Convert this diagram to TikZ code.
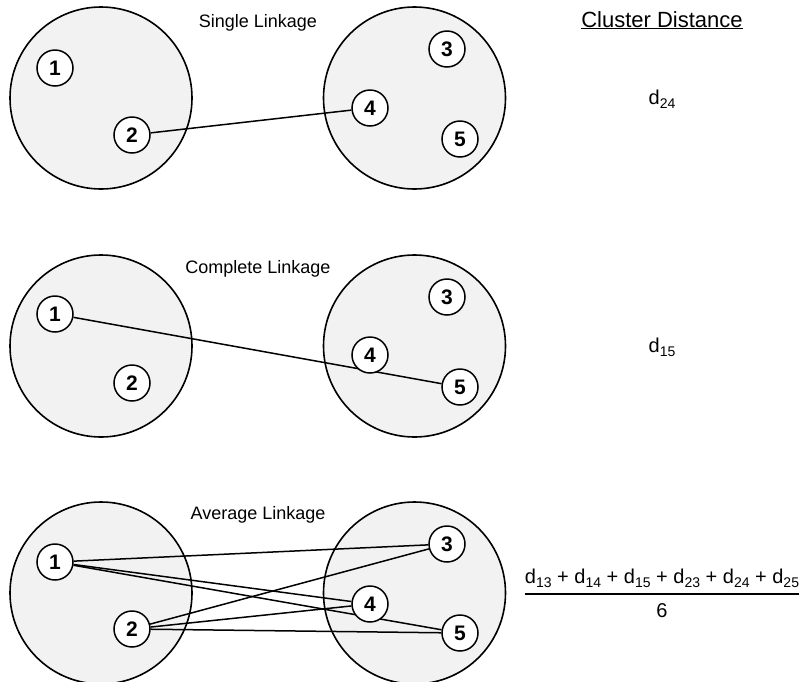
\documentclass[tikz,border=0pt]{standalone}
\usepackage{fontspec}
\setmainfont{Liberation Sans}
\usetikzlibrary{positioning}
\pgfdeclarelayer{background}
\pgfdeclarelayer{edges}
\pgfsetlayers{background,edges,main}

\newcommand{\dist}[1]{d\raisebox{-0.22em}{\fontsize{14}{16}\selectfont #1}}

\begin{document}
\begin{tikzpicture}[
    x=1pt, y=-1pt,
    cluster/.style={circle, draw, line width=1.6pt, fill=black!5, minimum size=182pt, inner sep=0pt},
    point/.style={circle, draw, line width=1.5pt, fill=white, minimum size=36pt, inner sep=0pt, font=\fontsize{21}{24}\selectfont\bfseries},
    link/.style={line width=1.5pt},
    title/.style={anchor=base, font=\fontsize{18}{22}\selectfont},
    dist/.style={anchor=base, font=\fontsize{20}{24}\selectfont}
]
    \useasboundingbox (0,0) rectangle (807,681);

    \begin{pgfonlayer}{background}
        \node[cluster] (sl) at (101,98) {};
        \node[cluster] (sr) at (414.5,98) {};
        \node[cluster] (cl) at (101,346) {};
        \node[cluster] (cr) at (414.5,346) {};
        \node[cluster] (al) at (101,593) {};
        \node[cluster] (ar) at (414.5,593) {};
    \end{pgfonlayer}

    \node[anchor=base, font=\fontsize{22}{26}\selectfont] (heading) at (662,27) {\underline{Cluster Distance}};

    % (a) Single linkage
    \node[title] (single) at (258,27) {Single Linkage};
    \node[point] (s1) at (55,68) {1};
    \node[point] (s2) at (132,135) {2};
    \node[point] (s3) at (447,49) {3};
    \node[point] (s4) at (370,108) {4};
    \node[point] (s5) at (460,139) {5};
    \node[dist] (dsingle) at (662,104) {\dist{24}};
    \begin{pgfonlayer}{edges}
        \draw[link] (s2) -- (s4);
    \end{pgfonlayer}

    % (b) Complete linkage
    \node[title] (complete) at (258,273) {Complete Linkage};
    \node[point] (c1) at (55,314) {1};
    \node[point] (c2) at (132,383) {2};
    \node[point] (c3) at (447,297) {3};
    \node[point] (c4) at (370,355) {4};
    \node[point] (c5) at (460,387) {5};
    \node[dist] (dcomplete) at (662,352) {\dist{15}};
    \begin{pgfonlayer}{edges}
        \draw[link] (c1) -- (c5);
    \end{pgfonlayer}

    % (c) Average linkage
    \node[title] (average) at (258,519) {Average Linkage};
    \node[point] (a1) at (55,562) {1};
    \node[point] (a2) at (132,629) {2};
    \node[point] (a3) at (447,544) {3};
    \node[point] (a4) at (370,604) {4};
    \node[point] (a5) at (460,633) {5};
    \node[font=\fontsize{20}{22}\selectfont] (daverage) at (662,594) {%
        \setlength{\arrayrulewidth}{1.6pt}\renewcommand{\arraystretch}{1.5}%
        \begin{tabular}{@{}c@{}}
            \dist{13} + \dist{14} + \dist{15} + \dist{23} + \dist{24} + \dist{25} \\ \hline
            6
        \end{tabular}};
    \begin{pgfonlayer}{edges}
        \draw[link] (a1) -- (a3);
        \draw[link] (a1) -- (a4);
        \draw[link] (a1) -- (a5);
        \draw[link] (a2) -- (a3);
        \draw[link] (a2) -- (a4);
        \draw[link] (a2) -- (a5);
    \end{pgfonlayer}
\end{tikzpicture}
\end{document}
